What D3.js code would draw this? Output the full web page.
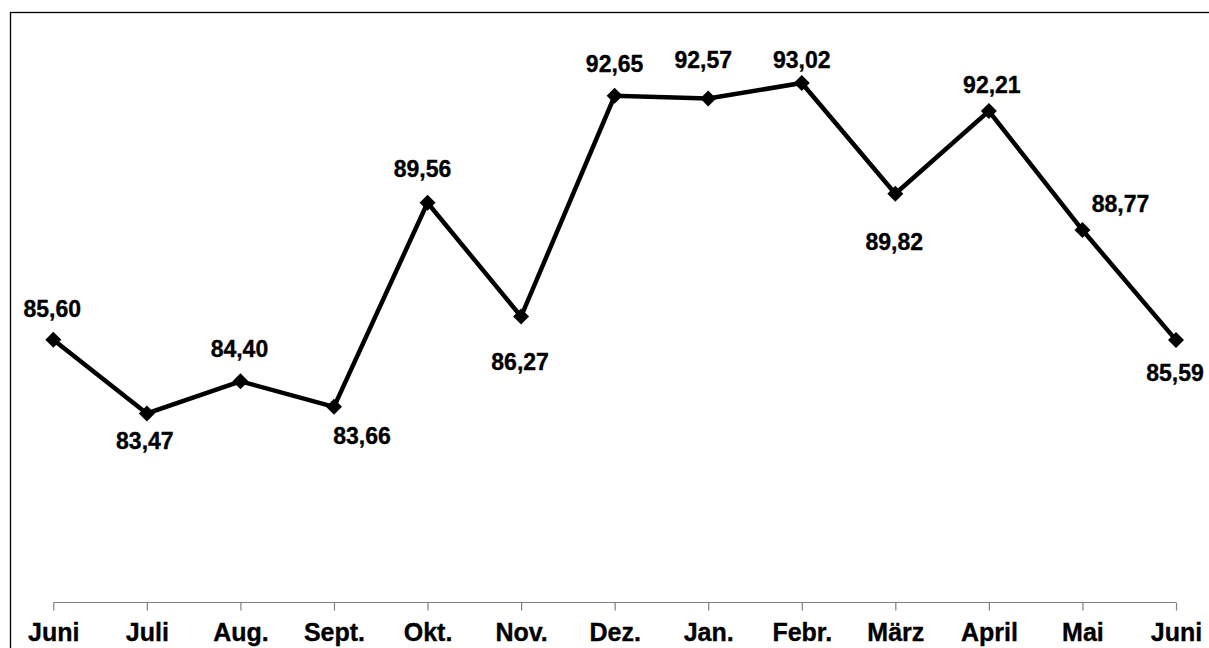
<!DOCTYPE html>
<html>
<head>
<meta charset="utf-8">
<script src="https://cdn.jsdelivr.net/npm/d3@7/dist/d3.min.js"></script>
<style>
  html, body { margin: 0; padding: 0; background: #fff; }
  svg { display: block; }
  text { font-family: "Liberation Sans", Arial, Helvetica, sans-serif; font-weight: bold; fill: #000; stroke: #000; stroke-width: 0.35px; }
</style>
</head>
<body>
<svg id="chart" width="1209" height="648"></svg>
<script>
// ---- data ----
const categories = ["Juni", "Juli", "Aug.", "Sept.", "Okt.", "Nov.", "Dez.", "Jan.", "Febr.", "März", "April", "Mai", "Juni"];
const values = [85.60, 83.47, 84.40, 83.66, 89.56, 86.27, 92.65, 92.57, 93.02, 89.82, 92.21, 88.77, 85.59];
const valueLabels = ["85,60", "83,47", "84,40", "83,66", "89,56", "86,27", "92,65", "92,57", "93,02", "89,82", "92,21", "88,77", "85,59"];
// label placement relative to the point (layout, px)
const labelDx = [-1, -2, -1, 28, -5, -1, 0, -5, 0, -1, 3, 38, -1];
const labelDy = [-23, 36, -24, 37, -26, 53, -24, -31, -15, 56, -18, -18, 41];
const yDomain = [78, 95];

// ---- layout ----
const svg = d3.select("#chart");

// outer frame (extends beyond the visible window on right/bottom)
svg.append("rect")
  .attr("x", 10.5).attr("y", 12.5)
  .attr("width", 1400).attr("height", 800)
  .attr("fill", "none").attr("stroke", "#000").attr("stroke-width", 1.3);

const idx = categories.map((d, i) => i);
const x = d3.scalePoint().domain(idx).range([53.3, 1176]);
const y = d3.scaleLinear().domain(yDomain).range([602.7, 14.5]);

// x axis
const axisG = svg.append("g").attr("transform", `translate(0,${602.5})`);
axisG.call(d3.axisBottom(x).tickSize(8).tickSizeOuter(0).tickFormat(i => categories[i]));
axisG.select(".domain").attr("stroke", "#808080").attr("stroke-width", 1.2)
  .attr("d", `M${x(0)},0H${x(idx.length - 1)}`);
axisG.selectAll(".tick line").attr("stroke", "#808080").attr("stroke-width", 1.2);
axisG.selectAll(".tick text")
  .attr("y", 38).attr("dy", 0)
  .style("font-size", "25px")
  .style("font-family", "'Liberation Sans', Arial, sans-serif")
  .style("font-weight", "bold")
  .attr("fill", "#000");

// line
const line = d3.line().x((d, i) => x(i)).y(d => y(d));
svg.append("path")
  .datum(values)
  .attr("d", line)
  .attr("fill", "none")
  .attr("stroke", "#000")
  .attr("stroke-width", 4.5)
  .attr("stroke-linejoin", "miter");

// diamond markers
const r = 8;
svg.append("g").selectAll("path")
  .data(values)
  .join("path")
  .attr("transform", (d, i) => `translate(${x(i)},${y(d)})`)
  .attr("d", `M0,${-r}L${r},0L0,${r}L${-r},0Z`)
  .attr("fill", "#000");

// data labels
svg.append("g").selectAll("text")
  .data(values)
  .join("text")
  .attr("x", (d, i) => x(i) + labelDx[i])
  .attr("y", (d, i) => y(d) + labelDy[i])
  .attr("text-anchor", "middle")
  .style("font-size", "23px")
  .text((d, i) => valueLabels[i]);
</script>
</body>
</html>
